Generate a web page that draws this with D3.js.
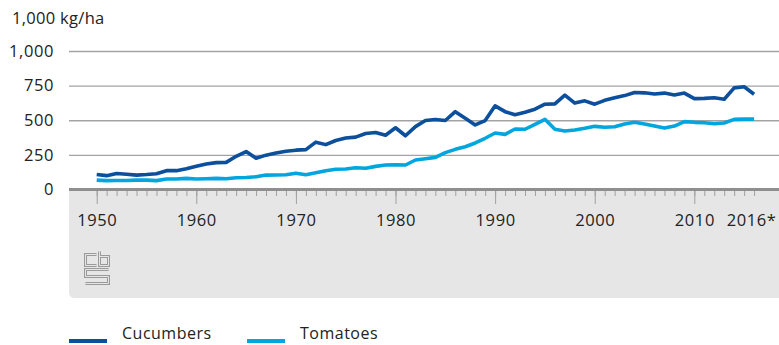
<!DOCTYPE html>
<html>
<head>
<meta charset="utf-8">
<script src="https://cdn.jsdelivr.net/npm/d3@7"></script>
<style>
  html, body { margin: 0; padding: 0; background: #fff; }
  svg { display: block; }
  text { font-family: "Open Sans", "Noto Sans", sans-serif; fill: #222; }
</style>
</head>
<body>
<svg id="chart" width="779" height="345"></svg>
<script>
// Greenhouse vegetable yields, kg per hectare
const years = d3.range(1950, 2017);
const cucumbers = [
  108, 100, 116, 110, 104, 108, 114, 136, 136, 150,
  168, 184, 194, 196, 240, 274, 226, 248, 264, 276,
  284, 288, 342, 324, 354, 372, 378, 404, 412, 392,
  446, 388, 454, 498, 506, 498, 562, 514, 466, 498,
  604, 562, 540, 558, 580, 616, 618, 682, 624, 640,
  616, 644, 662, 678, 700, 698, 690, 696, 682, 696,
  656, 658, 662, 652, 734, 742, 688
];
const tomatoes = [
  68, 64, 65, 65, 68, 68, 64, 76, 76, 80,
  76, 78, 80, 78, 85, 87, 92, 104, 105, 107,
  118, 107, 121, 136, 146, 148, 157, 153, 167, 177,
  179, 177, 213, 222, 232, 266, 290, 309, 336, 370,
  408, 398, 437, 435, 471, 507, 435, 422, 430, 442,
  456, 449, 453, 473, 485, 473, 458, 444, 458, 490,
  485, 482, 475, 480, 506, 508, 508
];
const seriesNames = ["Cucumbers", "Tomatoes"];
const seriesColors = ["#0b4f9d", "#00a6dd"];
const yTicks = [0, 250, 500, 750, 1000];
const majorYears = [1950, 1960, 1970, 1980, 1990, 2000, 2010];
const labelYears = [1950, 1960, 1970, 1980, 1990, 2000, 2010, 2016];
const unitLabel = "1,000 kg/ha";

const svg = d3.select("#chart");
const plotLeft = 69, plotRight = 779;

const x = d3.scaleLinear().domain([1950, 2016]).range([96.7, 754.1]);
const y = d3.scaleLinear().domain([0, 1000]).range([189.5, 51]);

// grey band under the time axis
svg.append("path")
  .attr("d", `M${plotLeft},189 H${plotRight + 10} V298 H${plotLeft + 6} Q${plotLeft},298 ${plotLeft},292 Z`)
  .attr("fill", "#e6e6e6");

// horizontal gridlines and value labels
const yAxis = svg.append("g")
  .attr("transform", `translate(${plotLeft},0)`)
  .call(d3.axisLeft(y).tickValues(yTicks).tickFormat(d3.format(","))
    .tickSize(-(plotRight - plotLeft)).tickPadding(15));
yAxis.select(".domain").remove();
yAxis.selectAll(".tick line").attr("stroke", "#a3a3a3").attr("stroke-width", 1.3);
yAxis.selectAll(".tick text").attr("font-size", 16.5).attr("fill", "#222")
  .attr("font-family", "Open Sans, sans-serif").attr("letter-spacing", "0.6");
yAxis.selectAll(".tick").filter(d => d === 0).select("line").remove();

// unit label
svg.append("text").attr("x", 12).attr("y", 24)
  .attr("font-size", 16.5).attr("letter-spacing", "0.3").text(unitLabel);

// time axis: yearly minor ticks, decade major ticks
const minor = svg.append("g").attr("transform", "translate(0,190)")
  .call(d3.axisBottom(x).tickValues(years).tickSize(6).tickFormat(""));
minor.select(".domain").remove();
minor.selectAll(".tick line").attr("stroke", "#a0a0a0");

const major = svg.append("g").attr("transform", "translate(0,190)")
  .call(d3.axisBottom(x).tickValues(majorYears).tickSize(14).tickFormat(""));
major.select(".domain").remove();
major.selectAll(".tick line").attr("stroke", "#a0a0a0");

const labels = svg.append("g").attr("transform", "translate(0,190)")
  .call(d3.axisBottom(x).tickValues(labelYears).tickSize(0).tickPadding(24)
    .tickFormat(d => d === 2016 ? "2016*" : String(d)));
labels.select(".domain").remove();
labels.selectAll(".tick text").attr("font-size", 16.5).attr("fill", "#222")
  .attr("font-family", "Open Sans, sans-serif").attr("letter-spacing", "0.6");
labels.selectAll(".tick").filter(d => d === 2016).select("text").attr("dx", -3);

// baseline
svg.append("line").attr("x1", plotLeft).attr("x2", plotRight)
  .attr("y1", y(0)).attr("y2", y(0))
  .attr("stroke", "#8f8f8f").attr("stroke-width", 2.8);

// series lines
const line = d3.line().x((d, i) => x(years[i])).y(d => y(d));
[cucumbers, tomatoes].forEach((vals, k) => {
  svg.append("path").datum(vals)
    .attr("d", line)
    .attr("fill", "none")
    .attr("stroke", seriesColors[k])
    .attr("stroke-width", 3.6)
    .attr("stroke-linejoin", "round");
});

// logo drawn as double-outlined strokes, aligned to the pixel grid
const logo = svg.append("g").attr("transform", "translate(84.5,251.5)");
const logoPaths = [
  "M12,3 H1 V14 H12",
  "M15,0 V14 H24 V5 H15",
  "M24,18 H1 V25 H24 V32 H1"
];
logoPaths.forEach(p => {
  logo.append("path").attr("d", p).attr("fill", "none")
    .attr("stroke", "#9a9a9a").attr("stroke-width", 3);
  logo.append("path").attr("d", p).attr("fill", "none")
    .attr("stroke", "#e6e6e6").attr("stroke-width", 1);
});

// legend
const legendX = [69, 247];
seriesNames.forEach((name, k) => {
  svg.append("line").attr("x1", legendX[k]).attr("x2", legendX[k] + 38)
    .attr("y1", 341).attr("y2", 341)
    .attr("stroke", seriesColors[k]).attr("stroke-width", 4);
  svg.append("text").attr("x", legendX[k] + 53).attr("y", 339)
    .attr("font-size", 16).attr("letter-spacing", "0.5").text(name);
});
</script>
</body>
</html>
